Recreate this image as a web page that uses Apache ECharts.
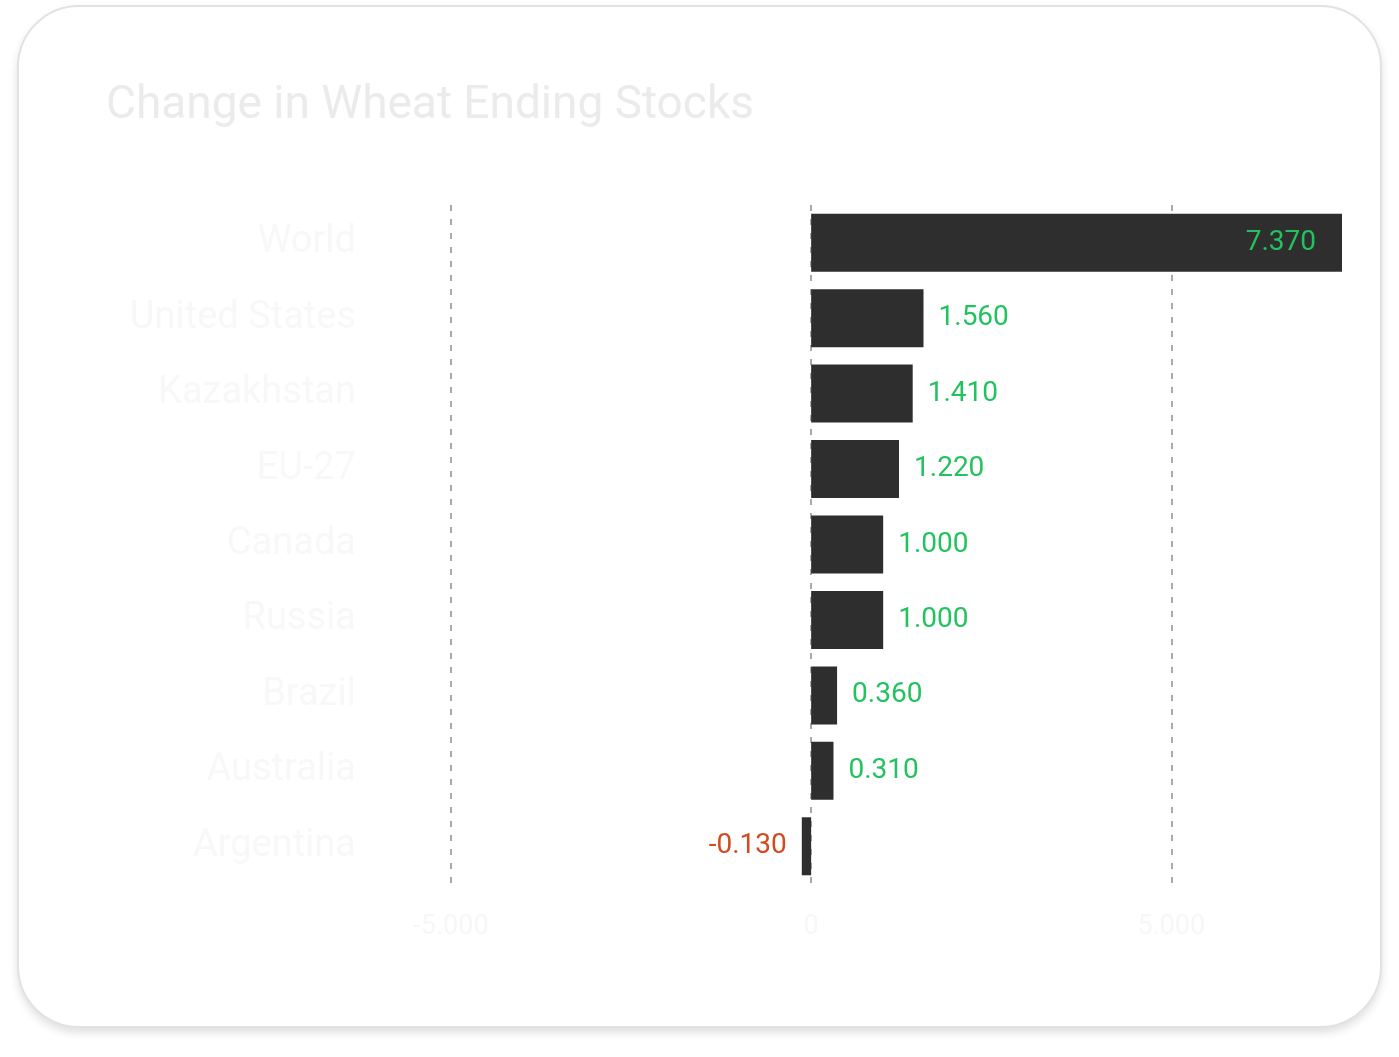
<!DOCTYPE html>
<html>
<head>
<meta charset="utf-8">
<script src="https://cdn.jsdelivr.net/npm/echarts@6/dist/echarts.min.js"></script>
<style>
  html, body { margin: 0; padding: 0; background: #ffffff; width: 1399px; height: 1057px; overflow: hidden; }
  #card { position: absolute; left: 17px; top: 5px; width: 1361px; height: 1019px; border: 2px solid #e2e2e2; border-radius: 62px; background: #ffffff; box-shadow: 0 5px 8px rgba(0,0,0,0.12); }
  #chart { position: absolute; left: 0; top: 0; width: 1399px; height: 1057px; }
</style>
</head>
<body>
<div id="card"></div>
<div id="chart"></div>
<script>
const titleText = 'Change in Wheat Ending Stocks';
const categories = ['World', 'United States', 'Kazakhstan', 'EU-27', 'Canada', 'Russia', 'Brazil', 'Australia', 'Argentina'];
const values = [7.37, 1.56, 1.41, 1.22, 1.0, 1.0, 0.36, 0.31, -0.13];
const xTicks = { min: -5, interval: 5 };

const chart = echarts.init(document.getElementById('chart'), null, { renderer: 'canvas' });
const maxVal = Math.max.apply(null, values);
const GREEN = '#22c35e', RED = '#d34a1e';

chart.setOption({
  backgroundColor: 'transparent',
  animation: false,
  title: {
    text: titleText,
    left: 101, top: 78,
    textStyle: { fontFamily: 'Roboto', fontSize: 46, fontWeight: 'normal', color: '#ebebeb' }
  },
  grid: { left: 451, right: 1399 - 1342, top: 205, bottom: 1057 - 884, containLabel: false },
  xAxis: {
    type: 'value',
    min: xTicks.min,
    max: maxVal,
    interval: xTicks.interval,
    axisLine: { show: false },
    axisTick: { show: false },
    axisLabel: {
      showMaxLabel: false,
      margin: 30,
      fontFamily: 'Roboto', fontSize: 27, color: '#f7f7f7',
      formatter: v => v === 0 ? '0' : v.toFixed(3)
    },
    splitLine: { show: true, showMaxLine: false, lineStyle: { color: '#aaaaaa', width: 2, type: [6, 8] } }
  },
  yAxis: {
    type: 'category',
    data: categories,
    inverse: true,
    axisLine: { show: false },
    axisTick: { show: false },
    axisLabel: { margin: 95, fontFamily: 'Roboto', fontSize: 38, color: '#f8f8f8' }
  },
  series: [{
    type: 'bar',
    data: values.map((v, i) => ({
      value: v,
      label: {
        show: true,
        position: i === 0 ? 'insideRight' : (v < 0 ? 'left' : 'right'),
        distance: i === 0 ? 26 : 15,
        color: v < 0 ? RED : GREEN
      }
    })),
    barWidth: 58,
    itemStyle: { color: '#2e2e2e' },
    label: {
      show: true,
      fontFamily: 'Roboto', fontSize: 28,
      formatter: p => p.value.toFixed(3)
    }
  }]
});
</script>
</body>
</html>
